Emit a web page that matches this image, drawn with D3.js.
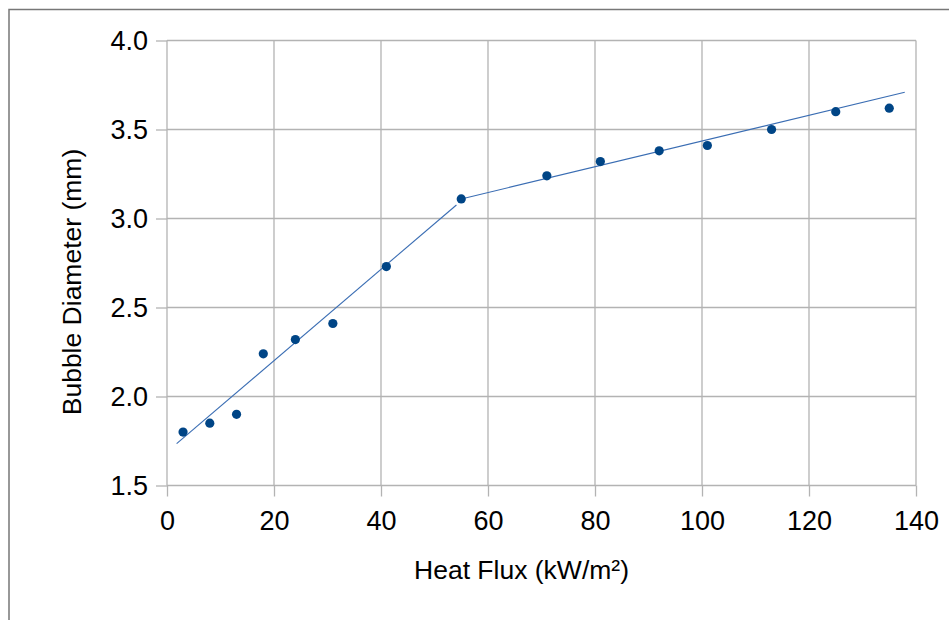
<!DOCTYPE html>
<html>
<head>
<meta charset="utf-8">
<script src="https://cdn.jsdelivr.net/npm/d3@7"></script>
<style>
  html, body { margin: 0; padding: 0; background: #fff; }
  svg { display: block; }
  text { font-family: "Liberation Sans", Arial, sans-serif; fill: #000; }
</style>
</head>
<body>
<svg id="chart" width="949" height="620"></svg>
<script>
// ---- data ----
const heatFlux = [3, 8, 13, 18, 24, 31, 41, 55, 71, 81, 92, 101, 113, 125, 135];
const bubbleDiameter = [1.80, 1.85, 1.90, 2.24, 2.32, 2.41, 2.73, 3.11, 3.24, 3.32, 3.38, 3.41, 3.50, 3.60, 3.62];
// trend line segments (endpoints)
const trendLowX = [1.8, 54.1];
const trendLowY = [1.735, 3.076];
const trendHighX = [55, 137.9];
const trendHighY = [3.11, 3.709];
const xTicks = [0, 20, 40, 60, 80, 100, 120, 140];
const yTicks = [1.5, 2.0, 2.5, 3.0, 3.5, 4.0];
const xTitle = "Heat Flux (kW/m²)";
const yTitle = "Bubble Diameter (mm)";

// ---- layout ----
const svg = d3.select("#chart");
const pLeft = 167, pRight = 916, pTop = 40.5, pBottom = 485.5;
const x = d3.scaleLinear().domain([0, 140]).range([pLeft, pRight]);
const y = d3.scaleLinear().domain([1.5, 4.0]).range([pBottom, pTop]);

// outer frame
svg.append("rect")
  .attr("x", 9).attr("y", 9.5).attr("width", 1000).attr("height", 700)
  .attr("fill", "none").attr("stroke", "#777").attr("stroke-width", 1.5);

// grid
const grid = svg.append("g").attr("stroke", "#b3b3b3").attr("stroke-width", 1.3);
grid.selectAll(".gx").data(xTicks).join("line")
  .attr("x1", d => x(d)).attr("x2", d => x(d))
  .attr("y1", pTop).attr("y2", pBottom);
grid.selectAll(".gy").data(yTicks).join("line")
  .attr("x1", pLeft).attr("x2", pRight)
  .attr("y1", d => y(d)).attr("y2", d => y(d));

// axes (ticks + labels)
const xAxis = d3.axisBottom(x).tickValues(xTicks).tickSize(11).tickPadding(14)
  .tickFormat(d3.format("d"));
const yAxis = d3.axisLeft(y).tickValues(yTicks).tickSize(11).tickPadding(8)
  .tickFormat(d3.format(".1f"));

const gx = svg.append("g").attr("transform", `translate(0,${pBottom})`).call(xAxis);
const gy = svg.append("g").attr("transform", `translate(${pLeft},0)`).call(yAxis);
[gx, gy].forEach(g => {
  g.select(".domain").remove();
  g.selectAll(".tick line").attr("stroke", "#b3b3b3").attr("stroke-width", 1.3);
  g.selectAll(".tick text")
    .attr("font-family", '"Liberation Sans", Arial, sans-serif')
    .attr("font-size", 27).attr("fill", "#000");
});

// trend lines
const line = d3.line().x(d => x(d[0])).y(d => y(d[1]));
[[trendLowX, trendLowY], [trendHighX, trendHighY]].forEach(([xs, ys]) => {
  svg.append("path")
    .datum(xs.map((v, i) => [v, ys[i]]))
    .attr("d", line)
    .attr("fill", "none")
    .attr("stroke", "#3a6db3")
    .attr("stroke-width", 1.1);
});

// points
svg.append("g").selectAll("circle")
  .data(heatFlux.map((v, i) => [v, bubbleDiameter[i]]))
  .join("circle")
  .attr("cx", d => x(d[0])).attr("cy", d => y(d[1]))
  .attr("r", 4.6).attr("fill", "#004586");

// titles
svg.append("text")
  .attr("x", (pLeft + pRight) / 2 - 20).attr("y", 579)
  .attr("text-anchor", "middle").attr("font-size", 26.5)
  .text(xTitle);
svg.append("text")
  .attr("transform", `translate(81,${282}) rotate(-90)`)
  .attr("text-anchor", "middle").attr("font-size", 26.5)
  .text(yTitle);
</script>
</body>
</html>
